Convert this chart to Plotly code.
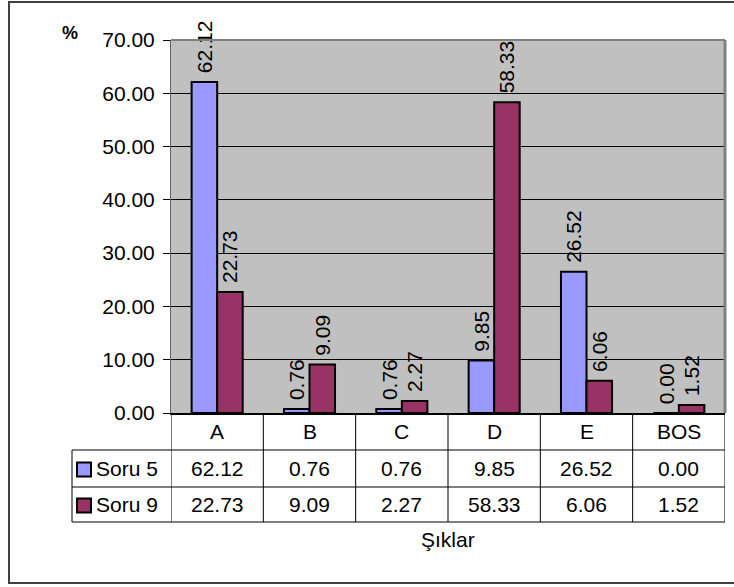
import plotly.graph_objects as go

categories = ["A", "B", "C", "D", "E", "BOS"]
series_names = ["Soru 5", "Soru 9"]
soru5 = [62.12, 0.76, 0.76, 9.85, 26.52, 0.00]
soru9 = [22.73, 9.09, 2.27, 58.33, 6.06, 1.52]
series_values = [soru5, soru9]
colors = ["#9999FF", "#993366"]
y_title = "%"
x_title = "Şıklar"

W, H = 734, 587
ML, MR, MT, MB = 171, 9, 40, 174
PW = W - ML - MR
PH = H - MT - MB
FONT = "Liberation Sans, Arial, sans-serif"
FS = 21


def px(x):
    return (x - ML) / PW


def py(y):
    return (H - MB - y) / PH


def txt(**kw):
    d = dict(showarrow=False, xanchor="center", yanchor="middle",
             font=dict(size=FS, family=FONT, color="black"))
    d.update(kw)
    return d


fig = go.Figure()
for name, vals, col in zip(series_names, series_values, colors):
    fig.add_trace(go.Bar(
        x=categories, y=vals, name=name,
        marker=dict(color=col, line=dict(color="black", width=2)),
        text=["\u00a0" + f"{v:.2f}" for v in vals],
        textposition="outside", textangle=-90,
        textfont=dict(size=FS, color="black", family=FONT),
        cliponaxis=False, constraintext="none",
    ))

shapes = []
annotations = []

# outer chart border
shapes.append(dict(type="rect", xref="paper", yref="paper",
                   x0=px(9), x1=px(745), y0=py(583), y1=py(2),
                   line=dict(color="#404040", width=2)))
# plot area border (top/right gray)
shapes.append(dict(type="line", xref="paper", yref="paper", x0=0, x1=1, y0=1, y1=1,
                   line=dict(color="#808080", width=2)))
shapes.append(dict(type="line", xref="paper", yref="paper", x0=1, x1=1, y0=0, y1=1,
                   line=dict(color="#808080", width=3)))

# data table
row_h = [37, 37, 35]
y_edges = [H - MB]
for h in row_h:
    y_edges.append(y_edges[-1] + h)
legend_left = 72
n = len(categories)
for i in range(n + 1):
    shapes.append(dict(type="line", xref="x", yref="paper", x0=i - 0.5, x1=i - 0.5,
                       y0=py(y_edges[0]), y1=py(y_edges[-1]),
                       line=dict(color="black", width=1)))
shapes.append(dict(type="line", xref="paper", yref="paper", x0=px(legend_left), x1=px(legend_left),
                   y0=py(y_edges[1]), y1=py(y_edges[-1]), line=dict(color="black", width=1)))
for k in range(1, len(y_edges)):
    shapes.append(dict(type="line", xref="paper", yref="paper", x0=px(legend_left), x1=1,
                       y0=py(y_edges[k]), y1=py(y_edges[k]), line=dict(color="black", width=1)))
for c in categories:
    annotations.append(txt(x=c, xref="x", y=py((y_edges[0] + y_edges[1]) / 2), yref="paper", text=c))
for r, (name, vals, col) in enumerate(zip(series_names, series_values, colors)):
    yc = (y_edges[r + 1] + y_edges[r + 2]) / 2
    for c, v in zip(categories, vals):
        annotations.append(txt(x=c, xref="x", y=py(yc), yref="paper", text=f"{v:.2f}"))
    shapes.append(dict(type="rect", xref="paper", yref="paper",
                       x0=px(77), x1=px(91), y0=py(yc + 8), y1=py(yc - 6),
                       fillcolor=col, line=dict(color="black", width=2)))
    annotations.append(txt(x=px(94), xref="paper", y=py(yc), yref="paper", text=name, xanchor="left"))

annotations.append(txt(x=px(70), xref="paper", y=py(33), yref="paper", text="<b>" + y_title + "</b>",
                       font=dict(size=18, family=FONT, color="black")))
annotations.append(txt(x=0.5, xref="paper", y=py(539), yref="paper", text=x_title))

fig.update_layout(
    width=W, height=H,
    margin=dict(l=ML, r=MR, t=MT, b=MB),
    plot_bgcolor="#C0C0C0", paper_bgcolor="white",
    showlegend=False, barmode="group", bargap=0.447, bargroupgap=0,
    font=dict(family=FONT, size=FS, color="black"),
    shapes=shapes, annotations=annotations,
    xaxis=dict(type="category", range=[-0.5, n - 0.5], showticklabels=False, ticks="",
               showgrid=False, showline=True, linecolor="black", linewidth=2, zeroline=False),
    yaxis=dict(range=[0, 70], dtick=10, tickformat=".2f", ticks="outside", ticklen=7,
               tickcolor="black", tickwidth=1, showgrid=True, gridcolor="black", gridwidth=1,
               showline=True, linecolor="#606060", linewidth=1, zeroline=False,
               ticklabelstandoff=4,
               tickfont=dict(size=FS, family=FONT, color="black")),
)

fig.write_html("out.html")
